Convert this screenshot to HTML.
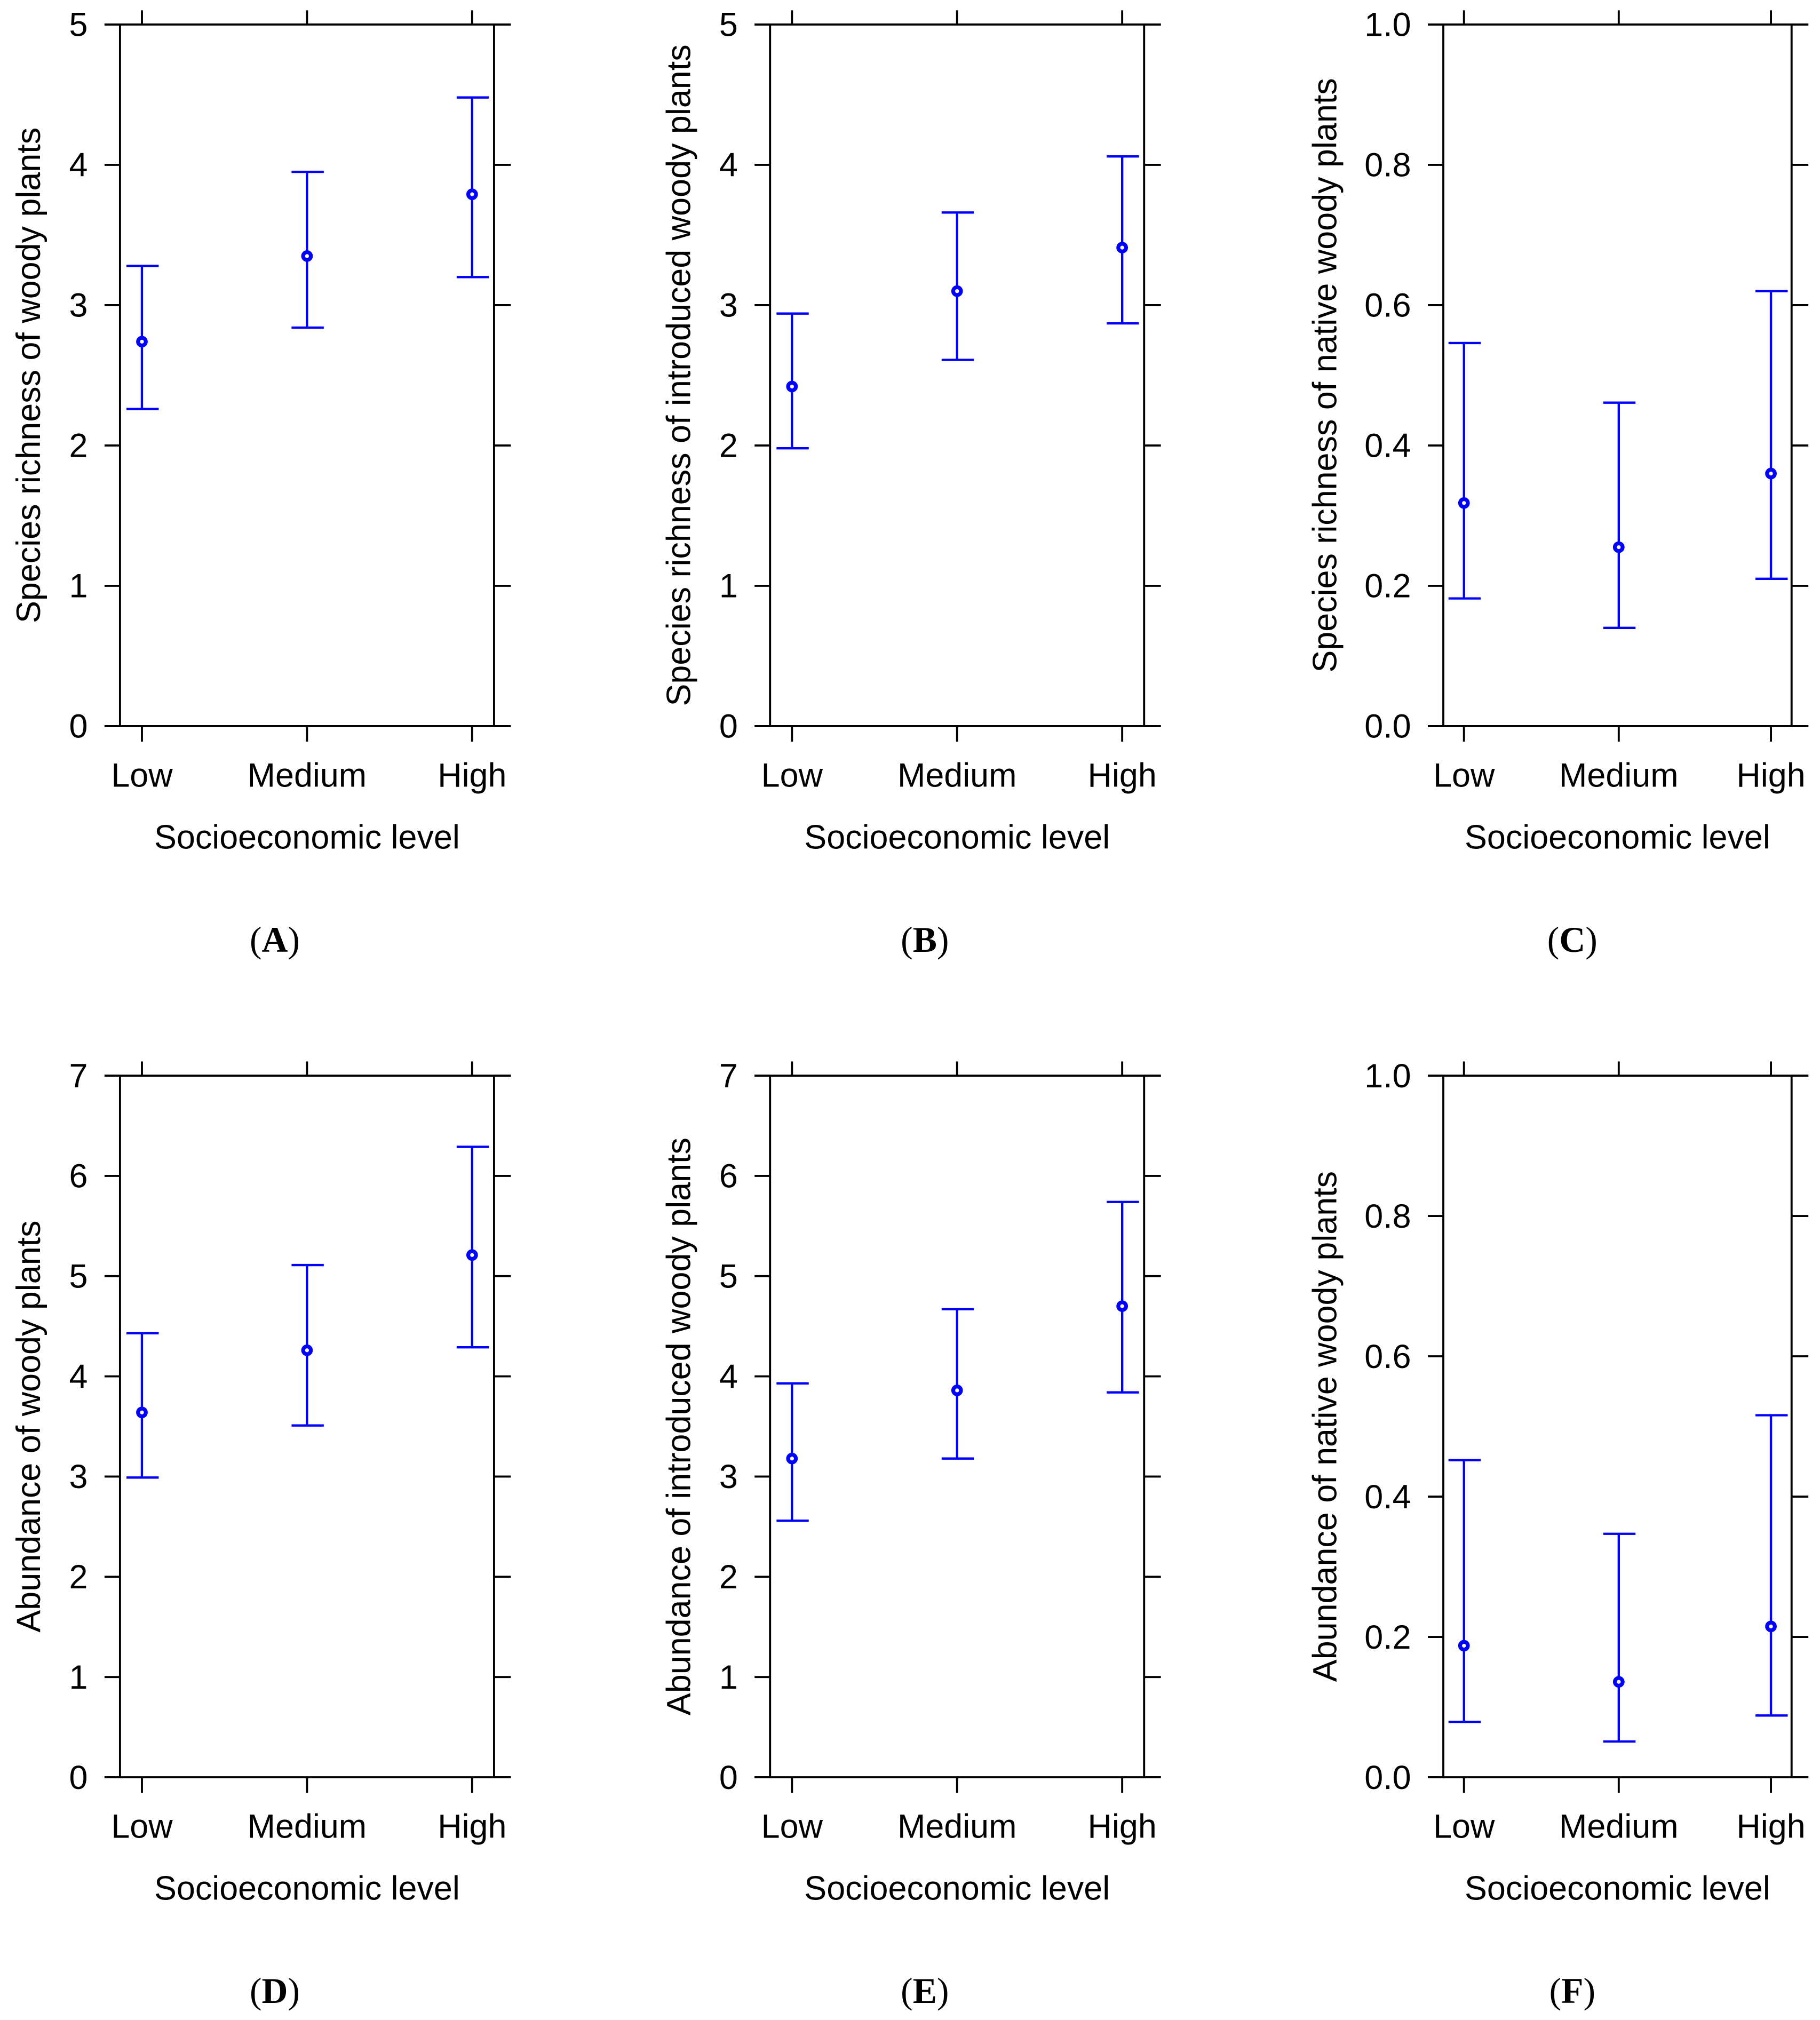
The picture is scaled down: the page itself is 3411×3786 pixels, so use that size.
<!DOCTYPE html>
<html><head><meta charset="utf-8"><style>
html,body{margin:0;padding:0;background:#fff}
svg{display:block}
text{font-family:"Liberation Sans",sans-serif;fill:#000}
</style></head><body>
<svg id="fig" width="3411" height="3786" viewBox="0 0 1411 1566.2" xmlns="http://www.w3.org/2000/svg"></svg>
<script>
const categories = ["Low","Medium","High"];
const panelLetters = ["A","B","C","D","E","F"];
const yTitles = ["Species richness of woody plants","Species richness of introduced woody plants","Species richness of native woody plants","Abundance of woody plants","Abundance of introduced woody plants","Abundance of native woody plants"];
const yMaxes = [5,5,1,7,7,1];
const yTickLabelsInt5 = ["0","1","2","3","4","5"];
const yTickLabelsInt7 = ["0","1","2","3","4","5","6","7"];
const yTickLabelsFrac = ["0.0","0.2","0.4","0.6","0.8","1.0"];
const meanA = [2.74,3.35,3.79], lowA = [2.26,2.84,3.20], highA = [3.28,3.95,4.48];
const meanB = [2.42,3.10,3.41], lowB = [1.98,2.61,2.87], highB = [2.94,3.66,4.06];
const meanC = [0.318,0.255,0.36], lowC = [0.182,0.14,0.21], highC = [0.546,0.461,0.62];
const meanD = [3.64,4.26,5.21], lowD = [2.99,3.51,4.29], highD = [4.43,5.11,6.29];
const meanE = [3.18,3.86,4.70], lowE = [2.56,3.18,3.84], highE = [3.93,4.67,5.74];
const meanF = [0.1875,0.136,0.215], lowF = [0.079,0.051,0.088], highF = [0.452,0.347,0.516];

const NS="http://www.w3.org/2000/svg";
const svg=document.getElementById('fig');
function mk(tag,attrs,parent){const e=document.createElementNS(NS,tag);for(const k in attrs)e.setAttribute(k,attrs[k]);(parent||svg).appendChild(e);return e;}

const means=[meanA,meanB,meanC,meanD,meanE,meanF];
const lows=[lowA,lowB,lowC,lowD,lowE,lowF];
const highs=[highA,highB,highC,highD,highE,highF];
const tickSets=[yTickLabelsInt5,yTickLabelsInt5,yTickLabelsFrac,yTickLabelsInt7,yTickLabelsInt7,yTickLabelsFrac];
const lefts=[93,597,1119], rights=[383,887,1389], catXs=[[110,238,366],[614,742,870],[1135,1255,1373]];
const tops=[19,834], bottoms=[563,1378];
const titleX=[22,526,1027], labelCX=[213,717,1219];

for(let p=0;p<6;p++){
  const col=p%3,row=Math.floor(p/3);
  const L=lefts[col],R=rights[col],T=tops[row],B=bottoms[row];
  const g=mk('g',{});
  
  
  const yS=v=>B-(v/yMaxes[p])*(B-T);
  const xS=i=>catXs[col][i];
  const ax={stroke:'#000','stroke-width':1.6,fill:'none'};
  mk('line',Object.assign({x1:L,y1:T,x2:L,y2:B},ax),g);
  mk('line',Object.assign({x1:R,y1:T,x2:R,y2:B},ax),g);
  mk('line',Object.assign({x1:L-12,y1:T,x2:R+13,y2:T},ax),g);
  mk('line',Object.assign({x1:L-12,y1:B,x2:R+13,y2:B},ax),g);
  const ticks=tickSets[p];
  ticks.forEach((lab,i)=>{
    const v=yMaxes[p]*i/(ticks.length-1);const y=yS(v);
    mk('line',Object.assign({x1:L-12,y1:y,x2:L,y2:y},ax),g);
    mk('line',Object.assign({x1:R,y1:y,x2:R+13,y2:y},ax),g);
    const t=mk('text',{x:L-25,y:y+9,'text-anchor':'end','font-size':26},g);
    
    
    t.textContent=lab;
  });
  categories.forEach((c,i)=>{
    const x=xS(i);
    mk('line',Object.assign({x1:x,y1:B,x2:x,y2:B+12},ax),g);
    mk('line',Object.assign({x1:x,y1:T-11,x2:x,y2:T},ax),g);
    const t=mk('text',{x:x,y:B+47,'text-anchor':'middle','font-size':26},g);
    
    
    t.textContent=c;
    const bl={stroke:'#0000ff','stroke-width':1.8};
    const eb=mk('g',{},g);
    
    
    mk('line',Object.assign({x1:x,y1:yS(lows[p][i]),x2:x,y2:yS(highs[p][i])},bl),eb);
    mk('line',Object.assign({x1:x-12,y1:yS(lows[p][i]),x2:x+13,y2:yS(highs[p][i])*0+yS(lows[p][i])},bl),eb);
    mk('line',Object.assign({x1:x-12,y1:yS(highs[p][i]),x2:x+13,y2:yS(highs[p][i])},bl),eb);
    const pt=mk('circle',{cx:x,cy:yS(means[p][i]),r:3,fill:'#fff',stroke:'#0000ff','stroke-width':3},g);
    
    
  });
  const xt=mk('text',{x:(catXs[col][0]+catXs[col][2])/2,y:B+95,'text-anchor':'middle','font-size':26},g);
  
  
  xt.textContent="Socioeconomic level";
  const cy=(T+B)/2;
  const yt=mk('text',{x:titleX[col],y:cy,'text-anchor':'middle','font-size':26,transform:'rotate(-90 '+titleX[col]+' '+cy+')',dy:'9'},g);
  
  
  yt.textContent=yTitles[p];
  const pl=mk('text',{x:labelCX[col],y:B+175,'text-anchor':'middle','font-size':28,style:'font-family:"Liberation Serif",serif'},g);
  
  
  pl.innerHTML='(<tspan font-weight="bold">'+panelLetters[p]+'</tspan>)';
}
</script>
</body></html>
